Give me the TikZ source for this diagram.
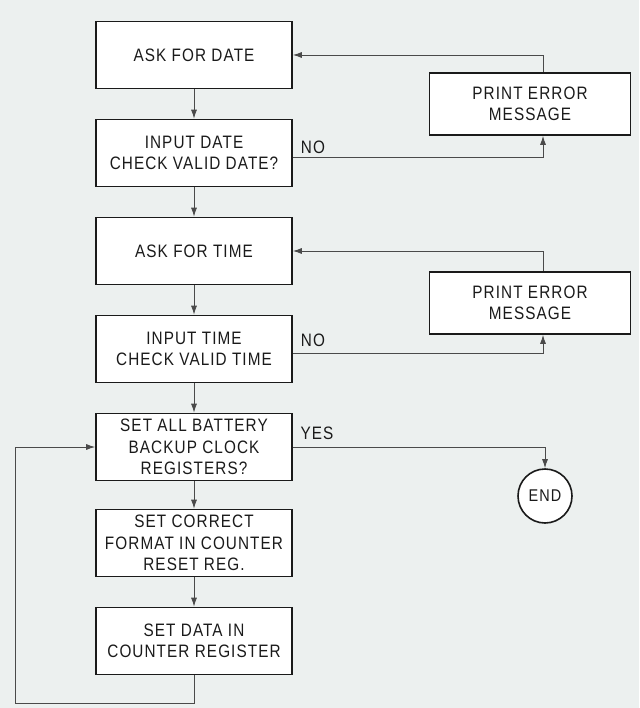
\documentclass[tikz,border=0pt]{standalone}
\usepackage{fontspec}
\setmainfont[FakeStretch=0.85,LetterSpace=6]{Liberation Sans}
\usepackage{tikz}
\usetikzlibrary{arrows.meta,positioning}
\definecolor{paper}{HTML}{ECF0EF}
\definecolor{ink}{HTML}{1A1A1A}
\definecolor{wire}{HTML}{4A4A4A}
\tikzset{
  ar/.style={-{Latex[length=9pt,width=6pt]},line width=0.9pt,wire},
  box/.style={draw=ink,line width=1.6pt,fill=white,align=center,minimum width=196pt,minimum height=67pt,inner sep=2pt,text=ink,font=\fontsize{18}{21.5}\selectfont},
  errbox/.style={box,minimum width=201pt,minimum height=62pt},
  endc/.style={draw=ink,line width=1.6pt,fill=white,circle,minimum size=54pt,inner sep=0pt,text=ink,font=\fontsize{17}{18}\selectfont},
  lbl/.style={text=ink,inner sep=1pt,font=\fontsize{18}{18}\selectfont}
}
\begin{document}
\begin{tikzpicture}[x=1pt,y=-1pt]
\fill[paper] (0,0) rectangle (639,708);
\node[box] (askdate) at (194,55) {ASK FOR DATE};
\node[box] (chkdate) at (194,153) {INPUT DATE\\CHECK VALID DATE?};
\node[box] (asktime) at (194,251) {ASK FOR TIME};
\node[box] (chktime) at (194,349) {INPUT TIME\\CHECK VALID TIME};
\node[box] (setall) at (194,447) {SET ALL BATTERY\\BACKUP CLOCK\\REGISTERS?};
\node[box] (setfmt) at (194,543) {SET CORRECT\\FORMAT IN COUNTER\\RESET REG.};
\node[box] (setdata) at (194,641) {SET DATA IN\\COUNTER REGISTER};
\node[errbox] (errdate) at (530,104) {PRINT ERROR\\MESSAGE};
\node[errbox] (errtime) at (530,303) {PRINT ERROR\\MESSAGE};
\node[endc] (stop) at (545,496) {END};
\node[lbl] (nodate) at (313,147) {NO};
\node[lbl] (notime) at (313,340) {NO};
\node[lbl] (yes) at (317,433) {YES};
\coordinate (lp) at (15,703);
% main column
\draw[ar] (askdate) -- (chkdate);
\draw[ar] (chkdate) -- (asktime);
\draw[ar] (asktime) -- (chktime);
\draw[ar] (chktime) -- (setall);
\draw[ar] (setall) -- (setfmt);
\draw[ar] (setfmt) -- (setdata);
% error loops
\draw[ar] ([yshift=-4pt]chkdate.east) -| ([xshift=13pt]errdate.south);
\draw[ar] ([xshift=13pt]errdate.north) |- (askdate.east);
\draw[ar] ([yshift=-4pt]chktime.east) -| ([xshift=13pt]errtime.south);
\draw[ar] ([xshift=13pt]errtime.north) |- (asktime.east);
\draw[ar] (setall.east) -| (stop.north);
\draw[ar] (setdata.south) |- (lp) |- (setall.west);
\end{tikzpicture}
\end{document}
